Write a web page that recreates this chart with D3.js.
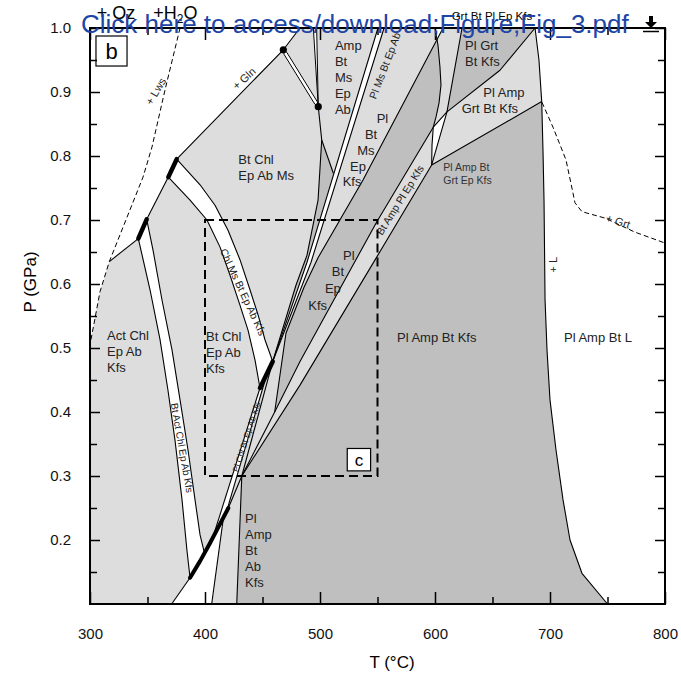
<!DOCTYPE html>
<html>
<head>
<meta charset="utf-8">
<script src="https://cdn.jsdelivr.net/npm/d3@7"></script>
<style>
  body { margin: 0; background: #fff; }
  svg { display: block; }
  text { font-family: "Liberation Sans", Arial, sans-serif; }
</style>
</head>
<body>
<svg id="chart" width="681" height="674"></svg>
<script>
// P-T pseudosection, T in degC, P in GPa

const xTicksMajor = [300, 400, 500, 600, 700, 800];
const xTicksMinor = [350, 450, 550, 650, 750];
const yTicksMajor = [0.2, 0.3, 0.4, 0.5, 0.6, 0.7, 0.8, 0.9, 1.0];
const yTicksMinor = [0.15, 0.25, 0.35, 0.45, 0.55, 0.65, 0.75, 0.85, 0.95];

// outline of the shaded (sub-solidus) area, left side
const greyLeft = [[300,0.1],[300,0.505],[308.7,0.588],[316.8,0.635],[342.0,0.671],[349.3,0.701],[368.1,0.767],[375.4,0.795],[468.1,0.966],[482.6,1.0]];
// solidus (+L)
const solidus = [[687,1.0],[690.4,0.95],[692.8,0.885],[693.9,0.809],[694.8,0.731],[695.7,0.575],[697.4,0.497],[700,0.419],[705.2,0.341],[711.3,0.263],[717.4,0.2],[727.8,0.148],[750,0.1]];

// boundaries
const lwsLine = [[378.3,1.0],[365.2,0.903],[353.9,0.814],[346.1,0.767],[316.8,0.635],[308.7,0.588],[300,0.505]];
const actChlLine = [[316.8,0.635],[342.0,0.671]];
const thickA = [[342.0,0.671],[349.3,0.701]];
const linkAB = [[349.3,0.701],[368.1,0.767]];
const thickB = [[368.1,0.767],[375.4,0.795]];
const glnLine = [[375.4,0.795],[468.1,0.966],[482.6,1.0]];
const dblBand = [[468.1,0.966],[471.1,0.962],[497.9,0.884],[498.5,0.877],[495.5,0.881],[468.7,0.959]];
const sliver = [[494.2,1.0],[498.5,0.877],[497.1,1.0]];
const dotStem = [[498.5,0.877],[501.5,0.825]];
const rightBranch = [[501.5,0.825],[511.6,0.773]];
const leftBranch = [[501.5,0.825],[498.3,0.731],[488.7,0.645],[479.1,0.598],[458.9,0.479]];
const plMsLeft = [[550.4,1.0],[488.7,0.634],[458.9,0.479]];
const plMsRight = [[555.7,1.0],[492.2,0.634],[458.9,0.479]];
const lm2 = [[607.0,1.0],[537.4,0.7625],[498.3,0.641],[486.1,0.595],[470.4,0.523],[460.6,0.4]];
const grtCurve = [[600.0,1.0],[602.6,0.973],[604.3,0.939],[605.2,0.911],[603.5,0.883],[600.9,0.861],[598.5,0.845],[597.4,0.817],[597.1,0.786]];
const steepLine = [[623.5,1.0],[610.4,0.869],[597.1,0.786]];
const bandUpper = [[432,0.3],[460.6,0.4],[482.6,0.479],[549.3,0.697],[598.5,0.845],[610.4,0.869],[656.5,0.934],[687,1.0]];
const bandLower = [[432,0.3],[482.6,0.442],[549.3,0.642],[597.1,0.786],[692.8,0.885]];
const chlMsLeft = [[368.1,0.767],[387.0,0.731],[401.7,0.7],[413.0,0.658],[421.7,0.614],[430.4,0.567],[437.4,0.528],[443.5,0.481],[447.8,0.4375]];
const chlMsRight = [[375.4,0.795],[395.7,0.755],[408.7,0.723],[420.0,0.684],[430.4,0.638],[439.1,0.591],[446.1,0.552],[452.2,0.5125],[458.9,0.479]];
const thickC = [[447.8,0.4375],[458.9,0.479]];
const plChlLeft = [[447.8,0.4375],[407.0,0.205]];
const plChlRight = [[452.3,0.45],[418.5,0.243]];
const btActLeft = [[342.0,0.671],[352.2,0.591],[360.9,0.513],[367.8,0.434],[373.9,0.356],[380.0,0.263],[384.3,0.184],[387.0,0.141]];
const btActRight = [[349.3,0.701],[354.8,0.653],[362.6,0.575],[371.3,0.497],[378.3,0.419],[385.2,0.341],[391.3,0.263],[395.7,0.208],[399.5,0.180]];
const thickCurve = [[387,0.141],[395.7,0.167],[404.3,0.195],[412.2,0.222],[420.3,0.25]];
const lowerExt = [[371,0.1],[387,0.141]];
const triRight = [[405.8,0.1],[416.1,0.236]];
const c0Low = [[420.3,0.25],[432,0.3]];
const thickTopC0 = [[458.9,0.479],[432,0.3]];
const m1Left = [[427.6,0.1],[432,0.3]];
const grtDashed = [[693,0.884],[702.6,0.845],[713.9,0.794],[720,0.742],[721.7,0.727],[727.8,0.713],[747.8,0.703],[773.9,0.681],[800,0.664]];
const dots = [[468.1,0.966],[498.5,0.877]];

// darker fields and small white fields
const m2 = [[601.6,0.981],[537.4,0.7625],[498.3,0.641],[486.1,0.595],[470.4,0.523],[460.6,0.4],[482.6,0.479],[549.3,0.697],[598.5,0.845],[600.9,0.861],[603.5,0.883],[605.2,0.911],[604.3,0.939],[602.6,0.973]];
const m3 = [[623.5,1.0],[610.4,0.869],[656.5,0.934],[687,1.0]];
const m4 = [[501.5,0.825],[511.6,0.773],[488.7,0.634],[458.9,0.479],[479.1,0.598],[488.7,0.645],[498.3,0.731]];
const lowTri = [[371,0.1],[387,0.141],[395.7,0.167],[404.3,0.195],[412.2,0.222],[416.1,0.236],[405.8,0.1]];
const grtTri = [[598.5,0.845],[610.4,0.869],[597.1,0.786],[597.4,0.817]];
const topTri = [[600,1.0],[607,1.0],[601.6,0.981]];

// inset box (panel c)
const insetT = [400, 550];
const insetP = [0.3, 0.7];

// labels
const blockLabels = [
  {text: ["Act Chl", "Ep Ab", "Kfs"], T: 314.8, P: 0.520},
  {text: ["Bt Chl", "Ep Ab", "Kfs"], T: 400.9, P: 0.518},
  {text: ["Bt Chl", "Ep Ab Ms"], T: 429.0, P: 0.795},
  {text: ["Amp", "Bt", "Ms", "Ep", "Ab"], T: 513.0, P: 0.972},
  {text: ["Pl", "Amp", "Bt", "Ab", "Kfs"], T: 434.8, P: 0.234},
  {text: ["Pl Grt", "Bt Kfs"], T: 626.1, P: 0.973}
];
const singleLabels = [
  {t: "Pl", T: 549.3, P: 0.859}, {t: "Bt", T: 539.1, P: 0.833}, {t: "Ms", T: 532.4, P: 0.808},
  {t: "Ep", T: 526.1, P: 0.783}, {t: "Kfs", T: 519.7, P: 0.760},
  {t: "Pl", T: 520.0, P: 0.645}, {t: "Bt", T: 510.2, P: 0.619}, {t: "Ep", T: 504.3, P: 0.593},
  {t: "Kfs", T: 489.8, P: 0.567},
  {t: "Pl Amp", T: 642.0, P: 0.900}, {t: "Grt Bt Kfs", T: 623.2, P: 0.875}
];
const centerLabels = [
  {t: "Pl Amp Bt Kfs", T: 601.5, P: 0.517},
  {t: "Pl Amp Bt L", T: 741.7, P: 0.517}
];
const smallLabel = {text: ["Pl Amp Bt", "Grt Ep Kfs"], T: 607.2, P: 0.782};
const bandLabels = [
  {t: "+ Lws", T: 357.2, P: 0.901, a: -60, s: 11},
  {t: "+ Gln", T: 433.9, P: 0.921, a: -42, s: 11},
  {t: "Chl Ms Bt Ep Ab Kfs", T: 433.0, P: 0.5875, a: 65, s: 10.5},
  {t: "Bt Act Chl Ep Ab Kfs", T: 380.0, P: 0.344, a: 80, s: 10},
  {t: "Pl Chl Bt Ep Ab Kfs", T: 436.1, P: 0.361, a: -72, s: 8.5},
  {t: "Pl Ms Bt Ep Ab", T: 556.5, P: 0.941, a: -69, s: 10.5},
  {t: "Bt Amp Pl Ep Kfs", T: 569.6, P: 0.731, a: -58, s: 10.5},
  {t: "+ Grt", T: 759.1, P: 0.698, a: 18, s: 11},
  {t: "+ L", T: 702.6, P: 0.630, a: -90, s: 11}
];
const boxB = {t: "b", T: [305.2, 332.2], P: [0.9406, 0.9875]};
const boxC = {t: "c", T: [523.7, 544.0], P: [0.308, 0.343]};

const LIGHT = "#dddddd", MID = "#bfbfbf";

const svg = d3.select("#chart");
const x = d3.scaleLinear().domain([300, 800]).range([90, 665]);
const y = d3.scaleLinear().domain([0.1, 1.0]).range([604, 28]);
const line = d3.line().x(d => x(d[0])).y(d => y(d[1]));

const gFill = svg.append("g");
const gLine = svg.append("g").attr("fill", "none").attr("stroke", "#000").attr("stroke-linejoin", "round");
const gText = svg.append("g");

function area(pts, color) {
  gFill.append("path").attr("d", line(pts) + "Z").attr("fill", color);
}
function stroke(pts, w, dash) {
  const p = gLine.append("path").attr("d", line(pts)).attr("stroke-width", w || 1.1);
  if (dash) p.attr("stroke-dasharray", dash);
  return p;
}
const band = (a, mid, b) => a.concat(mid, b.slice().reverse());

// fills
area(greyLeft.concat(solidus), LIGHT);
area([[427.6, 0.1]].concat(bandLower, solidus.filter(d => d[1] < 0.885)), MID);
area(m2, MID);
area(m3, MID);
area(m4, MID);
area(band(btActLeft, [[395.7, 0.167]], btActRight), "#fff");
area(band(chlMsLeft, [], chlMsRight), "#fff");
area(band(plChlLeft, [[412.2, 0.222]], plChlRight), "#fff");
area(band(plMsLeft, [], plMsRight), "#fff");
area(lowTri, "#fff");
area(dblBand, "#fff");
area(sliver, "#fff");
area(grtTri, "#fff");
area(topTri, "#fff");

// boundaries
[actChlLine, linkAB, glnLine, dotStem, rightBranch, leftBranch, plMsLeft, plMsRight, lm2,
 grtCurve, steepLine, bandUpper, bandLower, chlMsLeft, chlMsRight, plChlLeft, plChlRight,
 btActLeft, btActRight, lowerExt, triRight, c0Low, thickTopC0, m1Left, solidus].forEach(d => stroke(d));
gLine.append("path").attr("d", line(dblBand) + "Z").attr("stroke-width", 1);
gLine.append("path").attr("d", line(sliver)).attr("stroke-width", 1);
stroke(lwsLine, 1, "5,3");
stroke(grtDashed, 1, "5,3");
[thickA, thickB, thickC].forEach(d => stroke(d, 4.5).attr("stroke-linecap", "round"));
stroke(thickCurve, 4).attr("stroke-linecap", "round");

svg.append("g").selectAll("circle").data(dots).join("circle")
  .attr("cx", d => x(d[0])).attr("cy", d => y(d[1])).attr("r", 3.6).attr("fill", "#000");

// inset rectangle
svg.append("rect")
  .attr("x", x(insetT[0])).attr("y", y(insetP[1]))
  .attr("width", x(insetT[1]) - x(insetT[0])).attr("height", y(insetP[0]) - y(insetP[1]))
  .attr("fill", "none").attr("stroke", "#000").attr("stroke-width", 2).attr("stroke-dasharray", "9,5");

// labels
blockLabels.forEach(l => {
  const t = gText.append("text").attr("font-size", 13).attr("fill", "#222");
  l.text.forEach((s, i) => t.append("tspan").attr("x", x(l.T)).attr("y", y(l.P) + i * 16).attr("dy", "0.35em").text(s));
});
gText.selectAll(".sl").data(singleLabels).join("text")
  .attr("x", d => x(d.T)).attr("y", d => y(d.P)).attr("dy", "0.35em")
  .attr("font-size", 13).attr("fill", "#222").text(d => d.t);
gText.selectAll(".cl").data(centerLabels).join("text")
  .attr("x", d => x(d.T)).attr("y", d => y(d.P)).attr("dy", "0.35em").attr("text-anchor", "middle")
  .attr("font-size", 13).attr("fill", "#222").text(d => d.t);
{
  const t = gText.append("text").attr("font-size", 10.5).attr("fill", "#333");
  smallLabel.text.forEach((s, i) => t.append("tspan").attr("x", x(smallLabel.T)).attr("y", y(smallLabel.P) + i * 12.5).attr("dy", "0.35em").text(s));
}
gText.selectAll(".bl").data(bandLabels).join("text")
  .attr("transform", d => `translate(${x(d.T)},${y(d.P)}) rotate(${d.a})`)
  .attr("dy", "0.35em").attr("text-anchor", "middle")
  .attr("font-size", d => d.s).attr("fill", "#222").text(d => d.t);

[[boxB, 22], [boxC, 17]].forEach(([b, fs]) => {
  svg.append("rect").attr("x", x(b.T[0])).attr("y", y(b.P[1]))
    .attr("width", x(b.T[1]) - x(b.T[0])).attr("height", y(b.P[0]) - y(b.P[1]))
    .attr("fill", "#fff").attr("stroke", "#000").attr("stroke-width", 1.2);
  svg.append("text").attr("x", (x(b.T[0]) + x(b.T[1])) / 2).attr("y", (y(b.P[0]) + y(b.P[1])) / 2)
    .attr("dy", "0.35em").attr("text-anchor", "middle").attr("font-size", fs).text(b.t);
});

// axes, ticks inward
function axis(gen, tr, vals, size, fmt, pad) {
  const g = svg.append("g").attr("transform", tr)
    .call(gen.tickValues(vals).tickSizeInner(-size).tickSizeOuter(0).tickPadding(pad || 3).tickFormat(fmt || (() => "")));
  g.select(".domain").remove();
  g.selectAll("line").attr("stroke-width", 1.5);
  g.selectAll("text").attr("font-size", 15).attr("font-family", '"Liberation Sans", Arial, sans-serif').attr("fill", "#111");
  return g;
}
axis(d3.axisBottom(x), "translate(0,604)", xTicksMajor, 12, d3.format("d"), 24);
axis(d3.axisBottom(x), "translate(0,604)", xTicksMinor, 7);
axis(d3.axisTop(x), "translate(0,28)", xTicksMajor, 12);
axis(d3.axisTop(x), "translate(0,28)", xTicksMinor, 7);
axis(d3.axisLeft(y), "translate(90,0)", yTicksMajor, 10, d3.format(".1f"), 19);
axis(d3.axisLeft(y), "translate(90,0)", yTicksMinor, 7);
axis(d3.axisRight(y), "translate(665,0)", yTicksMajor, 10);
axis(d3.axisRight(y), "translate(665,0)", yTicksMinor, 7);

svg.append("rect").attr("x", 90).attr("y", 28).attr("width", 575).attr("height", 576)
  .attr("fill", "none").attr("stroke", "#000").attr("stroke-width", 2);

svg.append("text").attr("x", 392).attr("y", 668).attr("text-anchor", "middle")
  .attr("font-size", 17).text("T (°C)");
svg.append("text").attr("transform", "translate(36,282) rotate(-90)").attr("text-anchor", "middle")
  .attr("font-size", 17).text("P (GPa)");

// above the frame
svg.append("text").attr("x", x(305.8)).attr("y", 19).attr("font-size", 18).text("+ Qz");
{
  const t = svg.append("text").attr("x", x(355)).attr("y", 19).attr("font-size", 18);
  t.append("tspan").text("+H");
  t.append("tspan").attr("font-size", 12).attr("dy", 4).text("2");
  t.append("tspan").attr("dy", -4).text("O");
}
svg.append("text").attr("x", x(614.5)).attr("y", y(1.019)).attr("dy", "0.35em").attr("font-size", 11.5).text("Grt Bt Pl Ep Kfs");

// download stamp
svg.append("text").attr("x", 81).attr("y", 33).attr("font-size", 26).attr("fill", "#1d45a6")
  .text("Click here to access/download;Figure;Fig_3.pdf");
svg.append("path").attr("d", "M649,16 h4 v6 h4 l-6,6 l-6,-6 h4 z").attr("fill", "#000");
svg.append("line").attr("x1", 643).attr("x2", 659).attr("y1", 31.5).attr("y2", 31.5).attr("stroke", "#000").attr("stroke-width", 1.5);
</script>
</body>
</html>
